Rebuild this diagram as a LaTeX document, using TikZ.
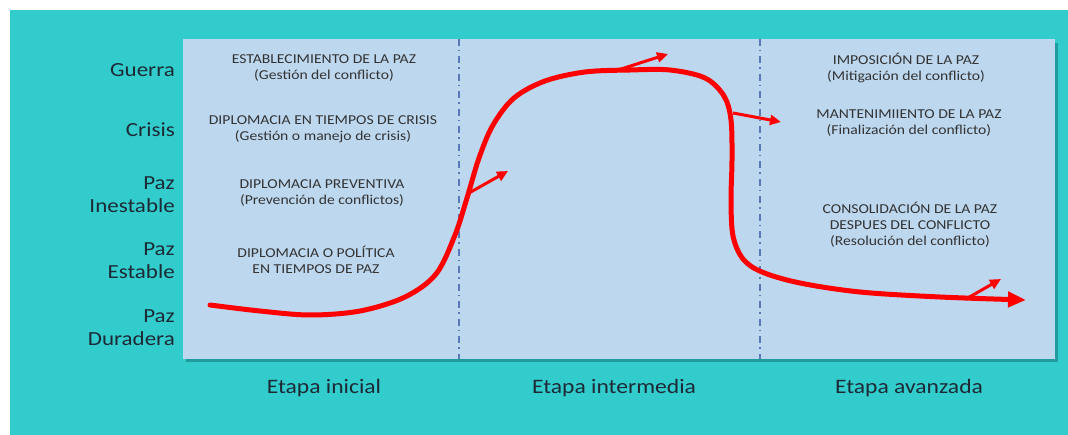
\documentclass[tikz,border=0pt]{standalone}
\usepackage{fontspec}
\setmainfont[FakeStretch=1.15]{Carlito}
\usetikzlibrary{arrows.meta}
\definecolor{teal1}{HTML}{33CCCC}
\definecolor{teal2}{HTML}{1E9C9E}
\definecolor{panel}{HTML}{BDD7EE}
\definecolor{lbl}{HTML}{1C2A36}
\definecolor{ptxt}{HTML}{333333}
\definecolor{divl}{HTML}{5878B8}
\definecolor{cred}{HTML}{FF0000}
\tikzset{
  level/.style={anchor=east, align=right, text=lbl, font=\fontsize{20}{23}\selectfont, inner sep=0pt},
  ptext/.style={align=center, text=ptxt, font=\fontsize{13.6}{16}\selectfont, inner sep=0pt},
  stage/.style={text=lbl, font=\fontsize{20.5}{23}\selectfont, inner sep=0pt},
  divider/.style={divl, line width=1.6pt, dash pattern=on 7pt off 4pt on 1.5pt off 5pt},
  curve/.style={cred, line width=5pt, line cap=round, line join=round},
  minor/.style={cred, line width=3pt, -{Triangle[length=11pt,width=10pt]}}
}
\begin{document}
\begin{tikzpicture}[x=1pt,y=-1pt]
\useasboundingbox (0,0) rectangle (1068,435);
\fill[white] (0,0) rectangle (1068,435);
\fill[teal1] (10,10) rectangle (1068,435);
% panel with shadow
\fill[teal2] (186,43) rectangle (1058,362);
\fill[panel] (183,39) rectangle (1055,359);
% dividers
\coordinate (d1t) at (459,39); \coordinate (d1b) at (459,359);
\coordinate (d2t) at (760,39); \coordinate (d2b) at (760,359);
\draw[divider] (d1t) -- (d1b);
\draw[divider] (d2t) -- (d2b);
% level labels
\node[level] (guerra) at (175,70) {Guerra};
\node[level] (crisis) at (175,130) {Crisis};
\node[level] (inest) at (175,195) {Paz\\Inestable};
\node[level] (estab) at (175,261) {Paz\\Estable};
\node[level] (durad) at (175,328) {Paz\\Duradera};
% panel texts
\node[ptext] (a1) at (324,68) {ESTABLECIMIENTO DE LA PAZ\\(Gestión del conflicto)};
\node[ptext] (a2) at (323,129) {DIPLOMACIA EN TIEMPOS DE CRISIS\\(Gestión o manejo de crisis)};
\node[ptext] (a3) at (322,193) {DIPLOMACIA PREVENTIVA\\(Prevención de conflictos)};
\node[ptext] (a4) at (316,260) {DIPLOMACIA O POLÍTICA\\EN TIEMPOS DE PAZ};
\node[ptext] (b1) at (906,68) {IMPOSICIÓN DE LA PAZ\\(Mitigación del conflicto)};
\node[ptext] (b2) at (909,123) {MANTENIMIIENTO DE LA PAZ\\(Finalización del conflicto)};
\node[ptext] (b3) at (910,225) {CONSOLIDACIÓN DE LA PAZ\\DESPUES DEL CONFLICTO\\(Resolución del conflicto)};
% stages
\node[stage] (s1) at (324,388) {Etapa inicial};
\node[stage] (s2) at (614,388) {Etapa intermedia};
\node[stage] (s3) at (909,388) {Etapa avanzada};
% main curve
\draw[curve, -{Triangle[length=18pt,width=15pt]}] plot[smooth, tension=0.55] coordinates {
 (210,305) (260,311) (310,315) (360,311) (405,297) (436,274) (455,235)
 (467,198) (479,158) (493,125) (514,98) (545,81) (585,72) (630,70) (670,70)
 (705,78) (724,96) (731,120) (732,160) (731,200) (733,236) (743,259)
 (762,272) (800,283) (860,292) (940,297) (1026,300)};
% minor arrows
\coordinate (m1s) at (469,193); \coordinate (m1e) at (508,171);
\coordinate (m2s) at (618,70); \coordinate (m2e) at (668,54);
\coordinate (m3s) at (733,113); \coordinate (m3e) at (781,122);
\coordinate (m4s) at (966,299); \coordinate (m4e) at (1001,279);
\draw[minor] (m1s) -- (m1e);
\draw[minor] (m2s) -- (m2e);
\draw[minor] (m3s) -- (m3e);
\draw[minor] (m4s) -- (m4e);
\end{tikzpicture}
\end{document}
